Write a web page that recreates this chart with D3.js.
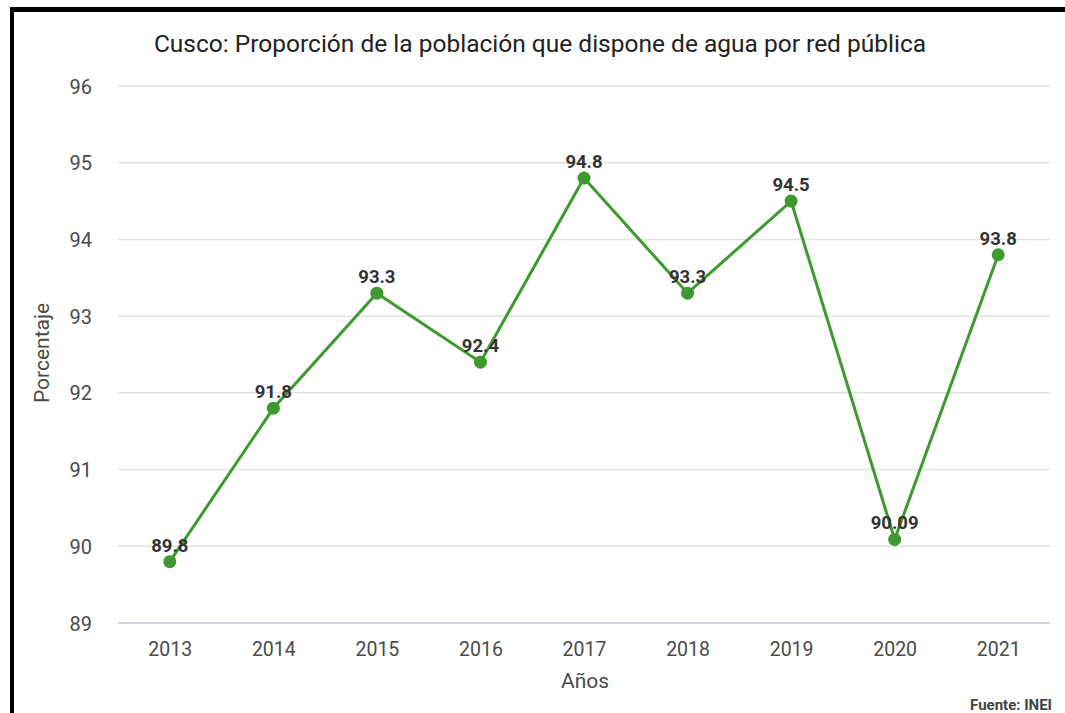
<!DOCTYPE html>
<html>
<head>
<meta charset="utf-8">
<script src="https://cdn.jsdelivr.net/npm/d3@7"></script>
<style>
  body { margin: 0; background: #fff; }
  text { font-family: Roboto, "Noto Sans", sans-serif; }
</style>
</head>
<body>
<div id="chart"></div>
<script>
// data
var years = ["2013", "2014", "2015", "2016", "2017", "2018", "2019", "2020", "2021"];
var values = [89.8, 91.8, 93.3, 92.4, 94.8, 93.3, 94.5, 90.09, 93.8];
var yTicks = [89, 90, 91, 92, 93, 94, 95, 96];
var labels = ["89.8", "91.8", "93.3", "92.4", "94.8", "93.3", "94.5", "90.09", "93.8"];

var W = 1065, H = 713;
var plotLeft = 118, plotRight = 1050, plotTop = 86, plotBottom = 623;

var svg = d3.select("#chart").append("svg")
    .attr("width", W)
    .attr("height", H);

svg.append("rect").attr("width", W).attr("height", H).attr("fill", "#fff");

// black frame edges (top and left)
svg.append("rect").attr("x", 10).attr("y", 7).attr("width", W - 10).attr("height", 5).attr("fill", "#000");
svg.append("rect").attr("x", 10).attr("y", 7).attr("width", 4).attr("height", H - 7).attr("fill", "#000");

var x = d3.scalePoint().domain(years).range([plotLeft, plotRight]).padding(0.5);
var y = d3.scaleLinear().domain([89, 96]).range([plotBottom, plotTop]);

// grid
svg.append("g").selectAll("line")
    .data(yTicks)
    .enter().append("line")
    .attr("x1", plotLeft).attr("x2", plotRight)
    .attr("y1", function(d){ return y(d); })
    .attr("y2", function(d){ return y(d); })
    .attr("stroke", function(d){ return d == 89 ? "#c9c6d2" : "#e2e2e2"; })
    .attr("stroke-width", 1.5);

// y axis labels
var yAxis = d3.axisLeft(y).tickValues(yTicks).tickFormat(d3.format("d")).tickSize(0).tickPadding(0);
var gy = svg.append("g").attr("transform", "translate(92,0)").call(yAxis);
gy.select(".domain").remove();
gy.selectAll("text").attr("font-size", 20).attr("fill", "#4a4a4a").attr("dy", "0.35em")
    .style("font-family", "Roboto, sans-serif");

// x axis labels
var xAxis = d3.axisBottom(x).tickSize(0).tickPadding(0);
var gx = svg.append("g").attr("transform", "translate(0,642)").call(xAxis);
gx.select(".domain").remove();
gx.selectAll("text").attr("font-size", 19.5).attr("fill", "#4a4a4a").attr("dy", "0.71em")
    .style("font-family", "Roboto, sans-serif");

// title
svg.append("text")
    .attr("x", 540).attr("y", 52)
    .attr("text-anchor", "middle")
    .attr("font-size", 24.5)
    .attr("fill", "#222")
    .text("Cusco: Proporción de la población que dispone de agua por red pública");

// axis titles
svg.append("text")
    .attr("transform", "translate(49,353) rotate(-90)")
    .attr("text-anchor", "middle")
    .attr("font-size", 21)
    .attr("fill", "#4a4a4a")
    .text("Porcentaje");

svg.append("text")
    .attr("x", 585).attr("y", 688)
    .attr("text-anchor", "middle")
    .attr("font-size", 21)
    .attr("fill", "#4a4a4a")
    .text("Años");

svg.append("text")
    .attr("x", 1052).attr("y", 710)
    .attr("text-anchor", "end")
    .attr("font-size", 15)
    .attr("font-weight", "bold")
    .attr("fill", "#444")
    .text("Fuente: INEI");

// line
var line = d3.line()
    .x(function(d, i){ return x(years[i]); })
    .y(function(d){ return y(d); });

svg.append("path")
    .datum(values)
    .attr("d", line)
    .attr("fill", "none")
    .attr("stroke", "#3d9a2e")
    .attr("stroke-width", 3);

svg.append("g").selectAll("circle")
    .data(values)
    .enter().append("circle")
    .attr("cx", function(d, i){ return x(years[i]); })
    .attr("cy", function(d){ return y(d); })
    .attr("r", 6.5)
    .attr("fill", "#3d9a2e");

svg.append("g").selectAll("text")
    .data(values)
    .enter().append("text")
    .attr("x", function(d, i){ return x(years[i]); })
    .attr("y", function(d){ return y(d) - 10; })
    .attr("text-anchor", "middle")
    .attr("font-size", 18.5)
    .attr("font-weight", "bold")
    .attr("fill", "#333")
    .text(function(d, i){ return labels[i]; });
</script>
</body>
</html>
